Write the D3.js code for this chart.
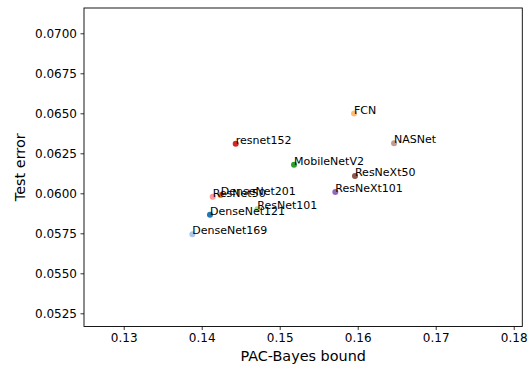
<!DOCTYPE html>
<html><head><meta charset="utf-8">
<script src="https://cdn.jsdelivr.net/npm/d3@7/dist/d3.min.js"></script>
<style>body{margin:0;background:#fff}svg{display:block}text{font-family:"DejaVu Sans",sans-serif}</style>
</head><body>
<script>
const names = ["DenseNet121","DenseNet169","DenseNet201","FCN","MobileNetV2","ResNet101","resnet152","ResNet50","ResNeXt101","ResNeXt50","NASNet"];
const pacBayes = [0.14106,0.13880,0.14244,0.15953,0.15183,0.14713,0.14436,0.14141,0.15713,0.15965,0.16466];
const testError = [0.05866,0.05744,0.05989,0.06498,0.06179,0.05900,0.06310,0.05979,0.06008,0.06108,0.06313];
const colors = ["#1f77b4","#aec7e8","#ff7f0e","#ffbb78","#2ca02c","#98df8a","#d62728","#ff9896","#9467bd","#8c564b","#c49c94"];
const xTicks = [0.13,0.14,0.15,0.16,0.17,0.18];
const yTicks = [0.0525,0.0550,0.0575,0.0600,0.0625,0.0650,0.0675,0.0700];

const W=528,H=368, L=84, R=522.3, T=8, B=326.5;
const svg=d3.select("body").append("svg").attr("width",W).attr("height",H);
const x=d3.scaleLinear().domain([0.12491,0.1811]).range([L,R]);
const y=d3.scaleLinear().domain([0.051675,0.071581]).range([B,T]);

const gx=svg.append("g").attr("transform",`translate(0,${B})`)
  .call(d3.axisBottom(x).tickValues(xTicks).tickFormat(d3.format(".2f")).tickSizeOuter(0).tickSize(3.5).tickPadding(3.5));
const gy=svg.append("g").attr("transform",`translate(${L},0)`)
  .call(d3.axisLeft(y).tickValues(yTicks).tickFormat(d3.format(".4f")).tickSizeOuter(0).tickSize(3.5).tickPadding(3.5));
[gx,gy].forEach(g=>{g.select(".domain").remove();g.selectAll("text").attr("font-size",12).attr("fill","#000").attr("font-family","DejaVu Sans");g.selectAll("line").attr("stroke","#000").attr("stroke-width",0.8);});

svg.append("rect").attr("x",L).attr("y",T).attr("width",R-L).attr("height",B-T)
  .attr("fill","none").attr("stroke","#000").attr("stroke-width",0.9);

const data=names.map((n,i)=>({n,px:pacBayes[i],te:testError[i],c:colors[i]}));
svg.append("g").selectAll("circle").data(data).join("circle")
  .attr("cx",d=>x(d.px)).attr("cy",d=>y(d.te)).attr("r",3).attr("fill",d=>d.c);
svg.append("g").selectAll("text").data(data).join("text")
  .attr("x",d=>x(d.px)).attr("y",d=>y(d.te)).attr("font-size",11).attr("fill","#000").text(d=>d.n);

svg.append("text").attr("x",(L+R)/2).attr("y",361).attr("text-anchor","middle").attr("font-size",14.4).text("PAC-Bayes bound");
svg.append("text").attr("transform",`translate(25,${(T+B)/2}) rotate(-90)`).attr("text-anchor","middle").attr("font-size",14.4).text("Test error");
</script>
</body></html>
